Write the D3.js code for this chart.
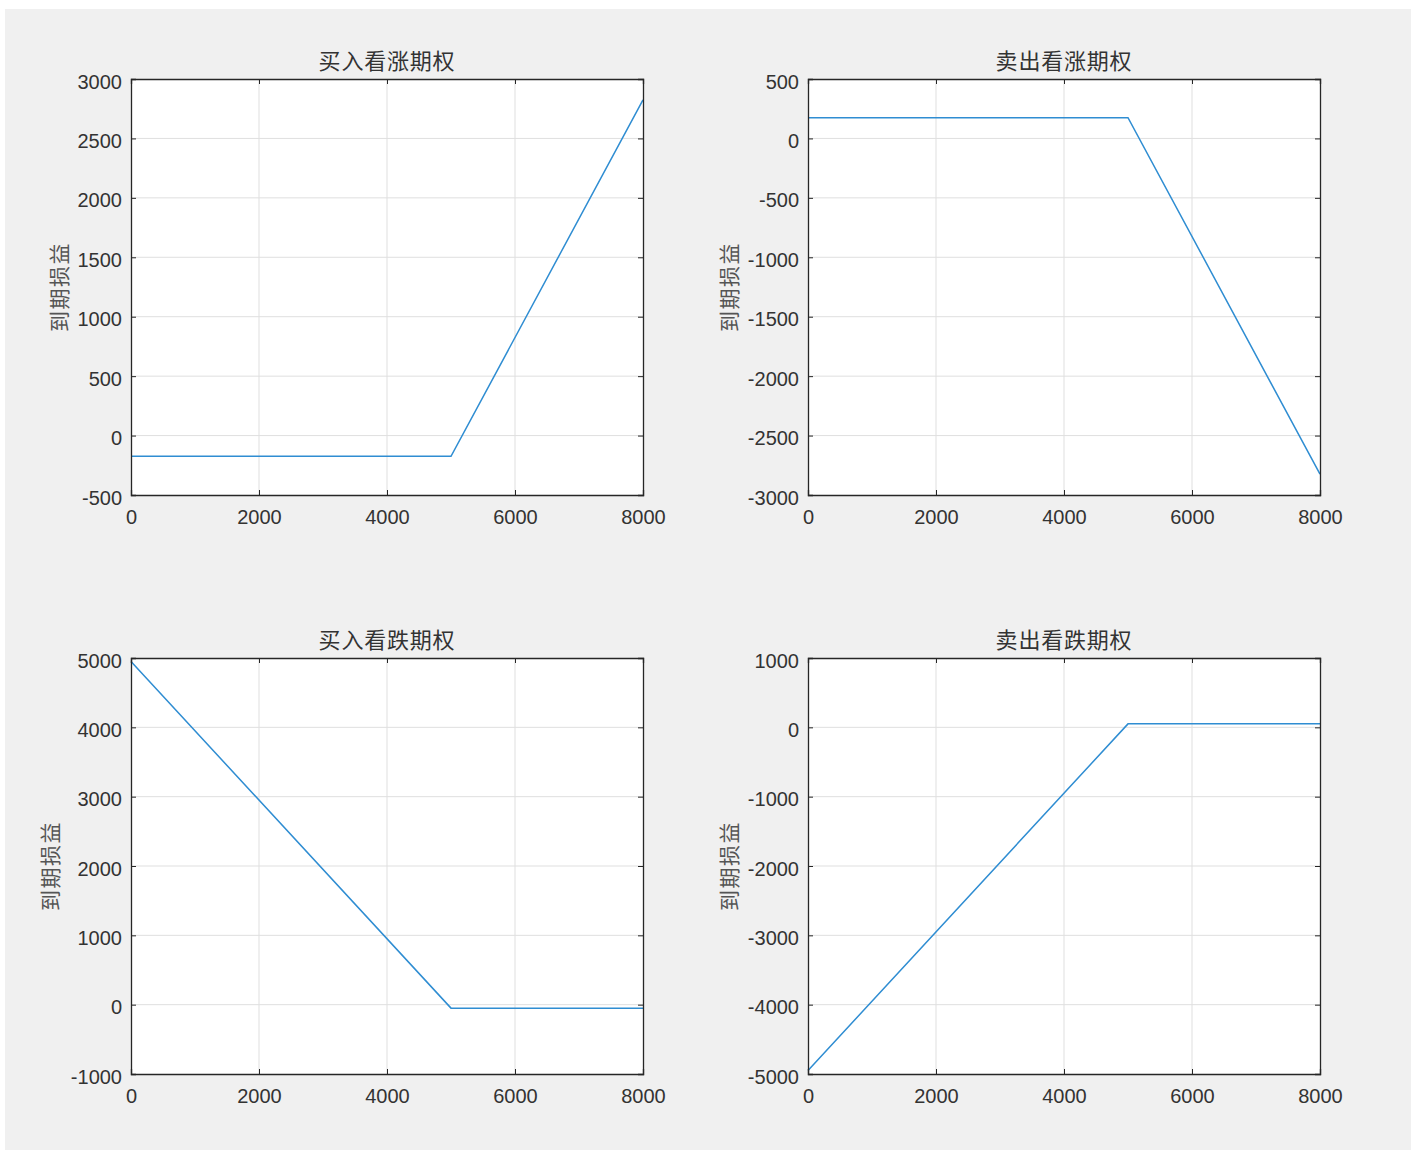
<!DOCTYPE html>
<html>
<head>
<meta charset="utf-8">
<script src="https://cdn.jsdelivr.net/npm/d3@7"></script>
<style>
  html, body { margin: 0; padding: 0; background: #ffffff; }
  svg { display: block; }
</style>
</head>
<body>
<svg id="fig" width="1411" height="1150"></svg>
<script>
// Payoff at expiry for the four basic option positions (strike 5000)
const titles = ["买入看涨期权", "卖出看涨期权", "买入看跌期权", "卖出看跌期权"];
const yLabel = "到期损益";

const priceX = [0, 5000, 8000];
const longCall  = [-175, -175, 2825];
const shortCall = [175, 175, -2825];
const longPut   = [4950, -50, -50];
const shortPut  = [-4950, 50, 50];

const xTicks = [0, 2000, 4000, 6000, 8000];
const yTicksLongCall  = [-500, 0, 500, 1000, 1500, 2000, 2500, 3000];
const yTicksShortCall = [-3000, -2500, -2000, -1500, -1000, -500, 0, 500];
const yTicksLongPut   = [-1000, 0, 1000, 2000, 3000, 4000, 5000];
const yTicksShortPut  = [-5000, -4000, -3000, -2000, -1000, 0, 1000];

const panels = [
  { title: titles[0], values: longCall,  yTicks: yTicksLongCall,  box: [131, 79, 643, 495],   labelGap: 73 },
  { title: titles[1], values: shortCall, yTicks: yTicksShortCall, box: [808, 79, 1320, 495],  labelGap: 80 },
  { title: titles[2], values: longPut,   yTicks: yTicksLongPut,   box: [131, 658, 643, 1074], labelGap: 82 },
  { title: titles[3], values: shortPut,  yTicks: yTicksShortPut,  box: [808, 658, 1320, 1074], labelGap: 80 }
];

const svg = d3.select("#fig");
const axisColor = "#262626";
const gridColor = "#dfdfdf";
const lineColor = "#2f8dd2";
const numFont = "'Liberation Sans', Arial, sans-serif";
const cjkFont = "'Noto Sans CJK SC', sans-serif";
const plain = d => String(d);

// figure background
svg.append("rect").attr("x", 5).attr("y", 9).attr("width", 1406).attr("height", 1141).attr("fill", "#f0f0f0");

panels.forEach(p => {
  const [x0, y0, x1, y1] = p.box;
  const x = d3.scaleLinear().domain([0, 8000]).range([x0, x1]);
  const y = d3.scaleLinear().domain(d3.extent(p.yTicks)).range([y1, y0]);
  const g = svg.append("g");

  g.append("rect").attr("x", x0).attr("y", y0).attr("width", x1 - x0).attr("height", y1 - y0).attr("fill", "#ffffff");

  // grid lines
  g.append("g").selectAll("line").data(xTicks.slice(1, -1)).join("line")
    .attr("x1", d => x(d)).attr("x2", d => x(d)).attr("y1", y0).attr("y2", y1)
    .attr("stroke", gridColor).attr("stroke-width", 1);
  g.append("g").selectAll("line").data(p.yTicks.slice(1, -1)).join("line")
    .attr("x1", x0).attr("x2", x1).attr("y1", d => y(d)).attr("y2", d => y(d))
    .attr("stroke", gridColor).attr("stroke-width", 1);

  // payoff line
  const pts = priceX.map((v, i) => [v, p.values[i]]);
  g.append("path").datum(pts)
    .attr("d", d3.line().x(d => x(d[0])).y(d => y(d[1])))
    .attr("fill", "none").attr("stroke", lineColor).attr("stroke-width", 1.5);

  // axes with inward ticks on all four sides
  const tl = 5;
  const bottom = g.append("g").attr("transform", `translate(0,${y1})`)
    .call(d3.axisBottom(x).tickValues(xTicks).tickSize(-tl).tickPadding(22).tickFormat(plain));
  const top = g.append("g").attr("transform", `translate(0,${y0})`)
    .call(d3.axisTop(x).tickValues(xTicks).tickSize(-tl).tickFormat(""));
  const left = g.append("g").attr("transform", `translate(${x0},0)`)
    .call(d3.axisLeft(y).tickValues(p.yTicks).tickSize(-tl).tickPadding(9).tickFormat(plain));
  const right = g.append("g").attr("transform", `translate(${x1},0)`)
    .call(d3.axisRight(y).tickValues(p.yTicks).tickSize(-tl).tickFormat(""));

  [bottom, top, left, right].forEach(a => {
    a.select(".domain").attr("stroke", axisColor).attr("stroke-width", 1.3);
    a.selectAll(".tick line").attr("stroke", axisColor).attr("stroke-width", 1);
    a.selectAll("text").attr("font-family", numFont).attr("font-size", 20).attr("fill", "#333333");
  });
  bottom.selectAll("text").attr("dy", "0.35em");
  left.selectAll("text").attr("dy", "0.45em");

  // title
  svg.append("text").attr("x", (x0 + x1) / 2).attr("y", y0 - 20)
    .attr("text-anchor", "middle").attr("dominant-baseline", "central")
    .attr("font-family", cjkFont).attr("font-size", 22).attr("letter-spacing", 0.8)
    .attr("fill", "#333333")
    .text(p.title);

  // y-axis label
  const lx = x0 - p.labelGap, ly = (y0 + y1) / 2;
  svg.append("text").attr("transform", `translate(${lx},${ly}) rotate(-90)`)
    .attr("text-anchor", "middle").attr("dominant-baseline", "central")
    .attr("font-family", cjkFont).attr("font-size", 21).attr("letter-spacing", 1.5)
    .attr("fill", "#555555")
    .text(yLabel);
});
</script>
</body>
</html>
